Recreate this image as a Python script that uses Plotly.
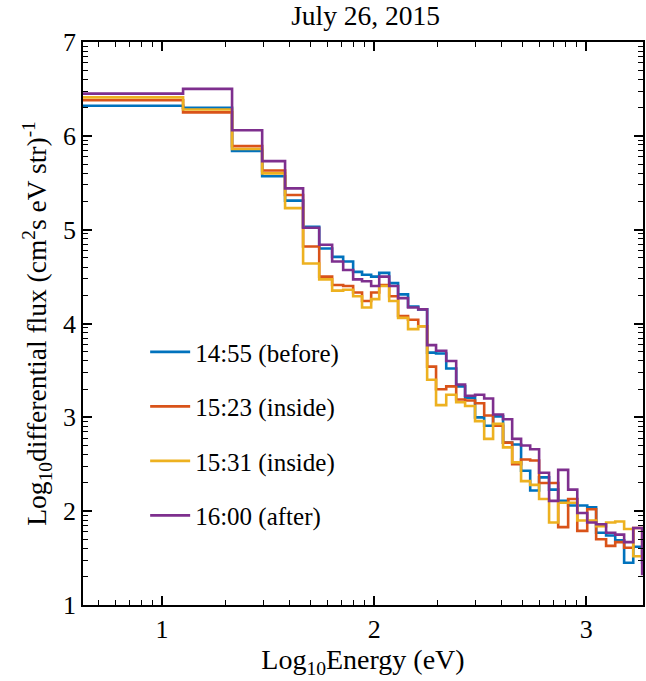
import numpy as np
import plotly.graph_objects as go

# bin edges in log10(Energy / eV)
edges = [0.55, 1.099, 1.330, 1.472, 1.580, 1.665, 1.741, 1.802, 1.854, 1.901, 1.943,
         1.986, 2.024, 2.071, 2.113, 2.160, 2.208, 2.250, 2.292, 2.340, 2.387, 2.429,
         2.476, 2.519, 2.561, 2.608, 2.651, 2.693, 2.736, 2.778, 2.825, 2.868, 2.915,
         2.958, 3.005, 3.047, 3.094, 3.137, 3.179, 3.222, 3.264, 3.40]

blue_1455 = [6.32, 6.30, 5.84, 5.57, 5.31, 5.03, 4.80, 4.71, 4.66, 4.55, 4.52, 4.50,
             4.54, 4.43, 4.31, 4.18, 4.15, 3.69, 3.68, 3.52, 3.33, 3.21, 3.00, 2.91,
             3.01, 2.73, 2.71, 2.43, 2.22, 2.36, 2.23, 2.11, 2.06, 2.06, 2.04, 1.77,
             1.74, 1.69, 1.45, 1.62, 1.45]
orange_1523 = [6.38, 6.25, 5.89, 5.63, 5.37, 4.82, 4.50, 4.41, 4.40, 4.33, 4.24, 4.33,
               4.41, 4.29, 4.08, 4.04, 3.97, 3.54, 3.30, 3.33, 3.19, 3.18, 3.15, 3.02,
               2.91, 2.73, 2.50, 2.55, 2.54, 2.30, 2.30, 1.83, 2.13, 1.79, 2.02, 1.70,
               1.63, 1.67, 1.61, 1.82, 1.52]
yellow_1531 = [6.41, 6.28, 5.86, 5.60, 5.23, 4.64, 4.47, 4.35, 4.36, 4.29, 4.17, 4.26,
               4.40, 4.24, 4.06, 3.94, 3.97, 3.40, 3.13, 3.24, 3.16, 3.12, 2.96, 2.77,
               2.93, 2.68, 2.52, 2.32, 2.28, 2.13, 1.88, 2.09, 2.09, 1.90, 1.90, 1.84,
               1.88, 1.89, 1.81, 1.52, 1.52]
purple_1600 = [6.45, 6.50, 6.06, 5.73, 5.44, 5.02, 4.84, 4.66, 4.57, 4.47, 4.45, 4.40,
               4.50, 4.40, 4.27, 4.17, 4.15, 3.77, 3.71, 3.60, 3.35, 3.23, 3.24, 3.20,
               3.03, 2.98, 2.77, 2.70, 2.66, 2.41, 2.11, 2.44, 2.23, 1.98, 1.88, 1.86,
               1.77, 1.75, 1.67, 1.82, 1.33]

series = [
    ("14:55 (before)", blue_1455, "#0072BD"),
    ("15:23 (inside)", orange_1523, "#D95319"),
    ("15:31 (inside)", yellow_1531, "#EDB120"),
    ("16:00 (after)", purple_1600, "#7E2F8E"),
]

x_major = [1, 2, 3]
y_major = [1, 2, 3, 4, 5, 6, 7]
x_minor = [n + np.log10(k) for n in range(0, 4) for k in range(2, 10)]
y_minor = [n + np.log10(k) for n in range(1, 7) for k in range(2, 10)]

FONT = "'Liberation Serif', 'Times New Roman', Times, serif"

fig = go.Figure()
for i, (name, vals, col) in enumerate(series):
    fig.add_trace(go.Scatter(
        x=edges, y=list(vals) + [vals[-1]], mode="lines", name=name,
        line=dict(color=col, width=2.6, shape="hv"),
        legendgroup=str(i),
    ))

axis_common = dict(
    showgrid=False, zeroline=False, showline=True, linecolor="black", linewidth=1.8,
    mirror="allticks", ticks="inside", ticklen=9, tickwidth=1.5, tickcolor="black",
    tickfont=dict(family=FONT, size=26, color="black"), automargin=False,
)
fig.update_xaxes(
    range=[0.627, 3.268], tickmode="array", tickvals=x_major,
    ticktext=[str(v) for v in x_major],
    minor=dict(tickmode="array", tickvals=x_minor, ticks="inside", ticklen=5,
               tickwidth=1.3, tickcolor="black"),
    title=dict(text="Log<sub>10</sub>Energy (eV)", font=dict(family=FONT, size=28, color="black"),
               standoff=6),
    **axis_common,
)
fig.update_yaxes(
    range=[1, 7], tickmode="array", tickvals=y_major,
    ticktext=[str(v) for v in y_major],
    minor=dict(tickmode="array", tickvals=y_minor, ticks="inside", ticklen=5,
               tickwidth=1.3, tickcolor="black"),
    title=dict(text="Log<sub>10</sub>differential flux (cm<sup>2</sup>s eV str)<sup>-1</sup>",
               font=dict(family=FONT, size=27.5, color="black"), standoff=8),
    **axis_common,
)

fig.update_layout(
    width=646, height=681,
    margin=dict(l=83, r=3, t=42, b=76),
    paper_bgcolor="white", plot_bgcolor="white",
    title=dict(text="July 26, 2015", x=0.566, xanchor="center", yref="container",
               y=0.978, yanchor="middle",
               font=dict(family=FONT, size=27.5, color="black")),
    legend=dict(x=0.111, y=0.49, xanchor="left", yanchor="top",
                bgcolor="rgba(0,0,0,0)", borderwidth=0,
                font=dict(family=FONT, size=25, color="black"),
                tracegroupgap=19, itemwidth=40),
    showlegend=True,
)

fig.write_html(
    "out.html",
    config={"displayModeBar": False},
    post_script="document.body.style.margin='0';document.body.style.overflow='hidden';",
)
